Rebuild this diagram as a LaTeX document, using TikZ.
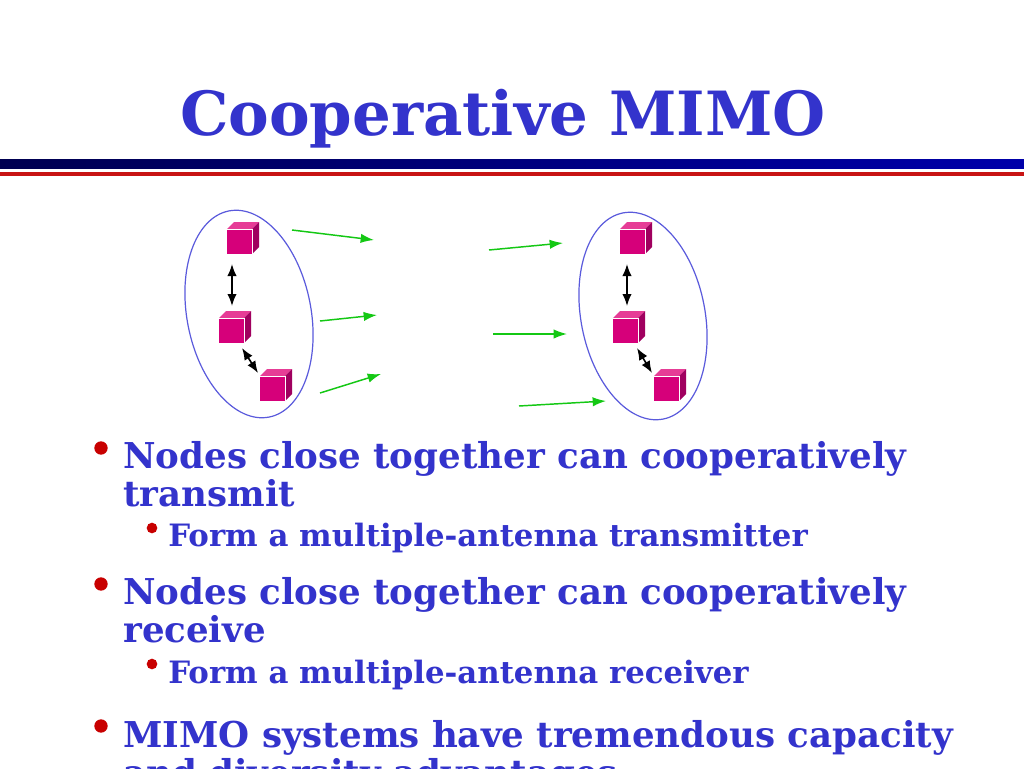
\documentclass[tikz,border=0pt]{standalone}
\usetikzlibrary{arrows.meta}
\usepackage{fontspec}
\setmainfont{DejaVu Serif}
\definecolor{ttl}{RGB}{51,51,204}
\definecolor{cfront}{RGB}{214,0,122}
\definecolor{ctop}{RGB}{230,60,150}
\definecolor{cside}{RGB}{160,0,95}
\definecolor{grnc}{RGB}{20,200,20}
\definecolor{ellc}{RGB}{90,90,220}
\definecolor{redc}{RGB}{200,20,20}
\definecolor{nav1}{RGB}{0,0,80}
\definecolor{nav2}{RGB}{0,0,170}
\definecolor{dotc}{RGB}{200,0,0}
\begin{document}
\begin{tikzpicture}[x=0.75pt,y=-0.75pt,
  cube/.pic={
    \fill[cfront] (-13,-12) rectangle (12,13);
    \fill[ctop] (-13,-12) -- (-6,-19) -- (19,-19) -- (12,-12) -- cycle;
    \fill[cside] (12,-12) -- (19,-19) -- (19,6) -- (12,13) -- cycle;
    \draw[white,line width=0.4pt] (-13,-12) -- (12,-12) -- (12,13);
  },
  grn/.style={-{Latex[length=10pt,width=7pt]},draw=grnc,line width=1.1pt},
  blk/.style={{Latex[length=9pt,width=7pt]}-{Latex[length=9pt,width=7pt]},black,line width=1.2pt},
  ell/.style={draw=ellc,line width=0.9pt},
  main/.style={anchor=base west,font=\bfseries\fontsize{26.7}{32}\selectfont,text=ttl,inner sep=0},
  sub/.style={anchor=base west,font=\bfseries\fontsize{23.1}{27}\selectfont,text=ttl,inner sep=0},
  dot/.style={circle,fill=dotc,inner sep=0,minimum size=#1}
]
\useasboundingbox[clip] (0,0) rectangle (1024,768);
\fill[white] (0,0) rectangle (1024,768);
\node[anchor=base,font=\bfseries\fontsize{45.7}{54}\selectfont,text=ttl] (title) at (503,135) {Cooperative MIMO};
\fill[left color=nav1,right color=nav2] (0,159) rectangle (1024,168);
\fill[redc] (0,172) rectangle (1024,176);
\draw[ell,rotate around={11:(249,314)}] (249,314) ellipse (62 and 105);
\draw[ell,rotate around={11:(643,316)}] (643,316) ellipse (62 and 105);
\foreach \n/\x/\y in {a/240/241,b/232/330,c/273/388,d/633/241,e/626/330,f/667/388}{
  \pic at (\x,\y) {cube};
  \coordinate (\n) at (\x,\y);
}
\coordinate (a1) at (232,264); \coordinate (b1) at (232,306);
\coordinate (b2) at (242,348); \coordinate (c1) at (258,373);
\coordinate (d1) at (627,264); \coordinate (e1) at (627,306);
\coordinate (e2) at (637,348); \coordinate (f1) at (652,373);
\draw[blk] (a1) -- (b1);
\draw[blk] (b2) -- (c1);
\draw[blk] (d1) -- (e1);
\draw[blk] (e2) -- (f1);
\foreach \i/\xa/\ya/\xb/\yb in {1/292/230/374/240,2/320/321/377/315,3/320/393/381/374,4/489/250/563/243,5/493/334/567/334,6/519/406/606/401}{
  \coordinate (s\i) at (\xa,\ya); \coordinate (t\i) at (\xb,\yb);
  \draw[grn] (s\i) -- (t\i);
}
\node[dot=10pt] (d1b) at (101,448) {};
\node[main] (t1) at (123,468) {Nodes close together can cooperatively};
\node[main] (t1b) at (123,506) {transmit};
\node[dot=8pt] (d2b) at (152,528) {};
\node[sub] (t2) at (168,546) {Form a multiple-antenna transmitter};
\node[dot=10pt] (d3b) at (101,584) {};
\node[main] (t3) at (123,604) {Nodes close together can cooperatively};
\node[main] (t3b) at (123,642) {receive};
\node[dot=8pt] (d4b) at (152,664) {};
\node[sub] (t4) at (168,683) {Form a multiple-antenna receiver};
\node[dot=10pt] (d5b) at (101,726) {};
\node[main] (t5) at (123,747) {MIMO systems have tremendous capacity};
\node[main] (t5b) at (123,785) {and diversity advantages};
\end{tikzpicture}
\end{document}
